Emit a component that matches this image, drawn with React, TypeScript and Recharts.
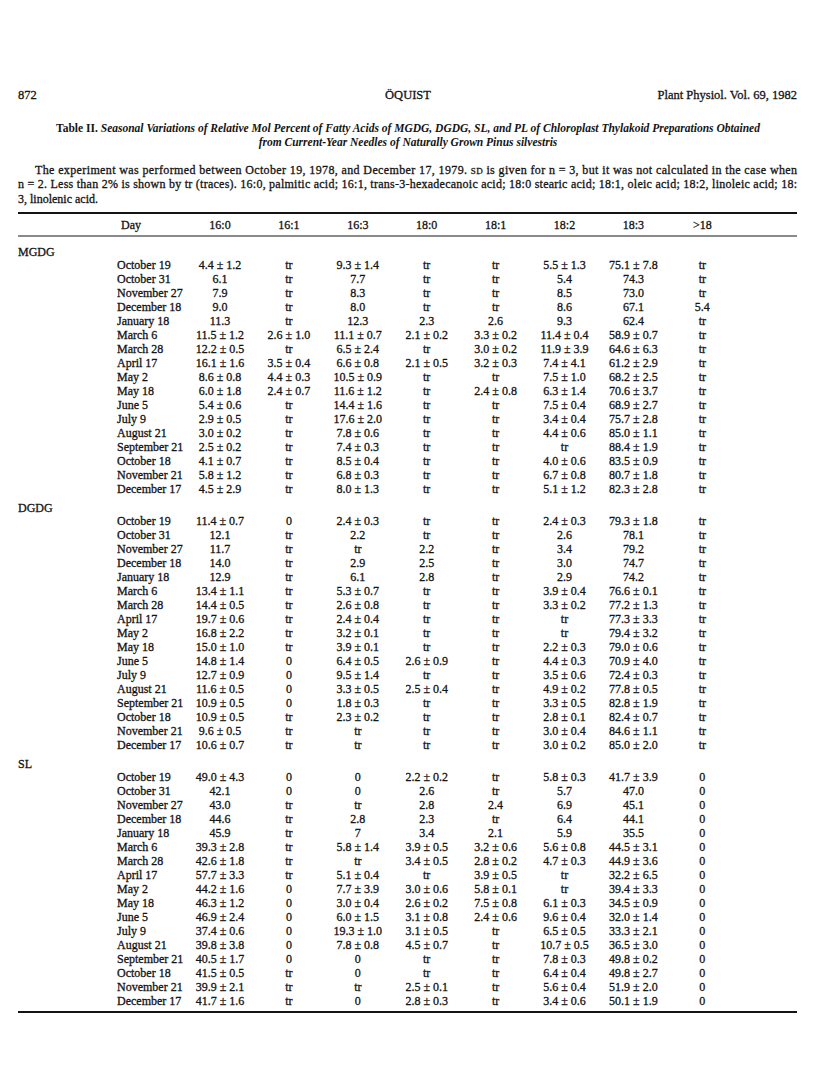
import React from "react";
import { Surface, Layer, Text } from "recharts";

const columns = ["Day", "16:0", "16:1", "16:3", "18:0", "18:1", "18:2", "18:3", ">18"];
const sections = ["MGDG", "DGDG", "SL"];
const days = [
  "October 19", "October 31", "November 27", "December 18", "January 18", "March 6",
  "March 28", "April 17", "May 2", "May 18", "June 5", "July 9", "August 21",
  "September 21", "October 18", "November 21", "December 17",
];

const mgdg = [
  ["4.4 ± 1.2", "tr", "9.3 ± 1.4", "tr", "tr", "5.5 ± 1.3", "75.1 ± 7.8", "tr"],
  ["6.1", "tr", "7.7", "tr", "tr", "5.4", "74.3", "tr"],
  ["7.9", "tr", "8.3", "tr", "tr", "8.5", "73.0", "tr"],
  ["9.0", "tr", "8.0", "tr", "tr", "8.6", "67.1", "5.4"],
  ["11.3", "tr", "12.3", "2.3", "2.6", "9.3", "62.4", "tr"],
  ["11.5 ± 1.2", "2.6 ± 1.0", "11.1 ± 0.7", "2.1 ± 0.2", "3.3 ± 0.2", "11.4 ± 0.4", "58.9 ± 0.7", "tr"],
  ["12.2 ± 0.5", "tr", "6.5 ± 2.4", "tr", "3.0 ± 0.2", "11.9 ± 3.9", "64.6 ± 6.3", "tr"],
  ["16.1 ± 1.6", "3.5 ± 0.4", "6.6 ± 0.8", "2.1 ± 0.5", "3.2 ± 0.3", "7.4 ± 4.1", "61.2 ± 2.9", "tr"],
  ["8.6 ± 0.8", "4.4 ± 0.3", "10.5 ± 0.9", "tr", "tr", "7.5 ± 1.0", "68.2 ± 2.5", "tr"],
  ["6.0 ± 1.8", "2.4 ± 0.7", "11.6 ± 1.2", "tr", "2.4 ± 0.8", "6.3 ± 1.4", "70.6 ± 3.7", "tr"],
  ["5.4 ± 0.6", "tr", "14.4 ± 1.6", "tr", "tr", "7.5 ± 0.4", "68.9 ± 2.7", "tr"],
  ["2.9 ± 0.5", "tr", "17.6 ± 2.0", "tr", "tr", "3.4 ± 0.4", "75.7 ± 2.8", "tr"],
  ["3.0 ± 0.2", "tr", "7.8 ± 0.6", "tr", "tr", "4.4 ± 0.6", "85.0 ± 1.1", "tr"],
  ["2.5 ± 0.2", "tr", "7.4 ± 0.3", "tr", "tr", "tr", "88.4 ± 1.9", "tr"],
  ["4.1 ± 0.7", "tr", "8.5 ± 0.4", "tr", "tr", "4.0 ± 0.6", "83.5 ± 0.9", "tr"],
  ["5.8 ± 1.2", "tr", "6.8 ± 0.3", "tr", "tr", "6.7 ± 0.8", "80.7 ± 1.8", "tr"],
  ["4.5 ± 2.9", "tr", "8.0 ± 1.3", "tr", "tr", "5.1 ± 1.2", "82.3 ± 2.8", "tr"],
];

const dgdg = [
  ["11.4 ± 0.7", "0", "2.4 ± 0.3", "tr", "tr", "2.4 ± 0.3", "79.3 ± 1.8", "tr"],
  ["12.1", "tr", "2.2", "tr", "tr", "2.6", "78.1", "tr"],
  ["11.7", "tr", "tr", "2.2", "tr", "3.4", "79.2", "tr"],
  ["14.0", "tr", "2.9", "2.5", "tr", "3.0", "74.7", "tr"],
  ["12.9", "tr", "6.1", "2.8", "tr", "2.9", "74.2", "tr"],
  ["13.4 ± 1.1", "tr", "5.3 ± 0.7", "tr", "tr", "3.9 ± 0.4", "76.6 ± 0.1", "tr"],
  ["14.4 ± 0.5", "tr", "2.6 ± 0.8", "tr", "tr", "3.3 ± 0.2", "77.2 ± 1.3", "tr"],
  ["19.7 ± 0.6", "tr", "2.4 ± 0.4", "tr", "tr", "tr", "77.3 ± 3.3", "tr"],
  ["16.8 ± 2.2", "tr", "3.2 ± 0.1", "tr", "tr", "tr", "79.4 ± 3.2", "tr"],
  ["15.0 ± 1.0", "tr", "3.9 ± 0.1", "tr", "tr", "2.2 ± 0.3", "79.0 ± 0.6", "tr"],
  ["14.8 ± 1.4", "0", "6.4 ± 0.5", "2.6 ± 0.9", "tr", "4.4 ± 0.3", "70.9 ± 4.0", "tr"],
  ["12.7 ± 0.9", "0", "9.5 ± 1.4", "tr", "tr", "3.5 ± 0.6", "72.4 ± 0.3", "tr"],
  ["11.6 ± 0.5", "0", "3.3 ± 0.5", "2.5 ± 0.4", "tr", "4.9 ± 0.2", "77.8 ± 0.5", "tr"],
  ["10.9 ± 0.5", "0", "1.8 ± 0.3", "tr", "tr", "3.3 ± 0.5", "82.8 ± 1.9", "tr"],
  ["10.9 ± 0.5", "tr", "2.3 ± 0.2", "tr", "tr", "2.8 ± 0.1", "82.4 ± 0.7", "tr"],
  ["9.6 ± 0.5", "tr", "tr", "tr", "tr", "3.0 ± 0.4", "84.6 ± 1.1", "tr"],
  ["10.6 ± 0.7", "tr", "tr", "tr", "tr", "3.0 ± 0.2", "85.0 ± 2.0", "tr"],
];

const sl = [
  ["49.0 ± 4.3", "0", "0", "2.2 ± 0.2", "tr", "5.8 ± 0.3", "41.7 ± 3.9", "0"],
  ["42.1", "0", "0", "2.6", "tr", "5.7", "47.0", "0"],
  ["43.0", "tr", "tr", "2.8", "2.4", "6.9", "45.1", "0"],
  ["44.6", "tr", "2.8", "2.3", "tr", "6.4", "44.1", "0"],
  ["45.9", "tr", "7", "3.4", "2.1", "5.9", "35.5", "0"],
  ["39.3 ± 2.8", "tr", "5.8 ± 1.4", "3.9 ± 0.5", "3.2 ± 0.6", "5.6 ± 0.8", "44.5 ± 3.1", "0"],
  ["42.6 ± 1.8", "tr", "tr", "3.4 ± 0.5", "2.8 ± 0.2", "4.7 ± 0.3", "44.9 ± 3.6", "0"],
  ["57.7 ± 3.3", "tr", "5.1 ± 0.4", "tr", "3.9 ± 0.5", "tr", "32.2 ± 6.5", "0"],
  ["44.2 ± 1.6", "0", "7.7 ± 3.9", "3.0 ± 0.6", "5.8 ± 0.1", "tr", "39.4 ± 3.3", "0"],
  ["46.3 ± 1.2", "0", "3.0 ± 0.4", "2.6 ± 0.2", "7.5 ± 0.8", "6.1 ± 0.3", "34.5 ± 0.9", "0"],
  ["46.9 ± 2.4", "0", "6.0 ± 1.5", "3.1 ± 0.8", "2.4 ± 0.6", "9.6 ± 0.4", "32.0 ± 1.4", "0"],
  ["37.4 ± 0.6", "0", "19.3 ± 1.0", "3.1 ± 0.5", "tr", "6.5 ± 0.5", "33.3 ± 2.1", "0"],
  ["39.8 ± 3.8", "0", "7.8 ± 0.8", "4.5 ± 0.7", "tr", "10.7 ± 0.5", "36.5 ± 3.0", "0"],
  ["40.5 ± 1.7", "0", "0", "tr", "tr", "7.8 ± 0.3", "49.8 ± 0.2", "0"],
  ["41.5 ± 0.5", "tr", "0", "tr", "tr", "6.4 ± 0.4", "49.8 ± 2.7", "0"],
  ["39.9 ± 2.1", "tr", "tr", "2.5 ± 0.1", "tr", "5.6 ± 0.4", "51.9 ± 2.0", "0"],
  ["41.7 ± 1.6", "tr", "0", "2.8 ± 0.3", "tr", "3.4 ± 0.6", "50.1 ± 1.9", "0"],
];

const sectionRows = [mgdg, dgdg, sl];

// layout
const W = 816;
const H = 1073;
const FONT = "'Liberation Serif', 'Times New Roman', serif";
const INK = "#141414";
const LEFT = 18;
const RIGHT = 797;
const DAY_X = 117;
const DAY_HEADER_X = 131;
const COL_X0 = 220;
const COL_STEP = 68.9;
const ROW_STEP = 14;
const FIRST_ROW = 269;
const SECTION_STRIDE = 256;
const CELL_SIZE = 12;
const HEAVY = 0.3;

const colX = (i: number) => COL_X0 + i * COL_STEP;

const cellStyle = {
  fontFamily: FONT,
  fontSize: CELL_SIZE,
  fill: INK,
  stroke: INK,
  strokeWidth: HEAVY,
};

export default function App() {
  return (
    <div style={{ position: "absolute", left: 0, top: 0, width: W, height: H, background: "#fff" }}>
      <Surface width={W} height={H}>
        <Layer>
          <text x={LEFT} y={99} fontFamily={FONT} fontSize={12.5} fill={INK} stroke={INK} strokeWidth={HEAVY}>872</text>
          <text x={408} y={99} fontFamily={FONT} fontSize={12.5} fill={INK} stroke={INK} strokeWidth={HEAVY} textAnchor="middle">ÖQUIST</text>
          <text x={RIGHT} y={99} fontFamily={FONT} fontSize={12.5} fill={INK} stroke={INK} strokeWidth={HEAVY} textAnchor="end">Plant Physiol. Vol. 69, 1982</text>
        </Layer>
        <Layer>
          <text x={408} y={132} fontFamily={FONT} fontSize={11.5} fill={INK} textAnchor="middle" fontWeight="bold">
            <tspan>Table II. </tspan>
            <tspan fontStyle="italic">Seasonal Variations of Relative Mol Percent of Fatty Acids of MGDG, DGDG, SL, and PL of Chloroplast Thylakoid Preparations Obtained</tspan>
          </text>
          <text x={408} y={146} fontFamily={FONT} fontSize={11.5} fill={INK} textAnchor="middle" fontWeight="bold" fontStyle="italic">
            from Current-Year Needles of Naturally Grown Pinus silvestris
          </text>
          <text x={35} y={174} fontFamily={FONT} fontSize={12} fill={INK} stroke={INK} strokeWidth={HEAVY} textLength={RIGHT - 35} lengthAdjust="spacing">
            The experiment was performed between October 19, 1978, and December 17, 1979. <tspan fontSize={9}>SD</tspan> is given for n = 3, but it was not calculated in the case when
          </text>
          <text x={LEFT} y={188} fontFamily={FONT} fontSize={12} fill={INK} stroke={INK} strokeWidth={HEAVY} textLength={RIGHT - LEFT} lengthAdjust="spacing">
            n = 2. Less than 2% is shown by tr (traces). 16:0, palmitic acid; 16:1, trans-3-hexadecanoic acid; 18:0 stearic acid; 18:1, oleic acid; 18:2, linoleic acid; 18:
          </text>
          <text x={LEFT} y={203} fontFamily={FONT} fontSize={12} fill={INK} stroke={INK} strokeWidth={HEAVY}>3, linolenic acid.</text>
        </Layer>
        <Layer>
          <line x1={LEFT} x2={RIGHT} y1={213} y2={213} stroke={INK} strokeWidth={1.8} />
          <line x1={LEFT} x2={RIGHT} y1={236} y2={236} stroke={INK} strokeWidth={1} />
          <line x1={LEFT} x2={RIGHT} y1={1012} y2={1012} stroke={INK} strokeWidth={1.8} />
        </Layer>
        <Layer>
          {columns.map((c, i) => (
            <Text key={c} x={i === 0 ? DAY_HEADER_X : colX(i - 1)} y={229} textAnchor="middle" verticalAnchor="end"
              {...cellStyle}>{c}</Text>
          ))}
        </Layer>
        {sections.map((s, si) => {
          const top = FIRST_ROW + si * SECTION_STRIDE;
          return (
            <Layer key={s}>
              <Text x={LEFT} y={top - 13} textAnchor="start" verticalAnchor="end" {...cellStyle}>{s}</Text>
              {days.map((d, ri) => (
                <Layer key={d + ri}>
                  <Text x={DAY_X} y={top + ri * ROW_STEP} textAnchor="start" verticalAnchor="end" {...cellStyle}>{d}</Text>
                  {sectionRows[si][ri].map((v, ci) => (
                    <Text key={ci} x={colX(ci)} y={top + ri * ROW_STEP} textAnchor="middle" verticalAnchor="end"
                      {...cellStyle}>{v}</Text>
                  ))}
                </Layer>
              ))}
            </Layer>
          );
        })}
      </Surface>
    </div>
  );
}
